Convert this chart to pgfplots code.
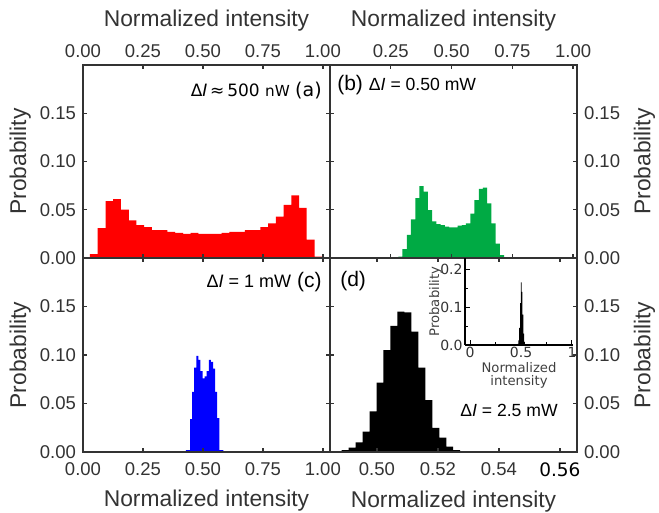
\documentclass[border=0pt]{standalone}
\usepackage{pgfplots}
\pgfplotsset{compat=1.18}
\usepackage{fontspec}
\setmainfont{Liberation Sans}
\newfontfamily\dejavu{DejaVu Sans}
\definecolor{hred}{RGB}{255,0,0}
\definecolor{hgreen}{RGB}{0,170,68}
\definecolor{hblue}{RGB}{0,0,255}
\definecolor{axgray}{RGB}{51,51,51}
\newcommand\tl{\fontsize{9.25}{11}\selectfont}
\newcommand\al{\fontsize{11.4}{13}\selectfont}
\tikzset{ann/.style={inner sep=0pt, text=black}}
\pgfplotsset{
 panel/.style={
  scale only axis, width=123.5pt,
  ymin=0, ymax=0.2, ytick={0,0.05,0.10,0.15},
  axis on top, clip=true,
  axis line style={axgray, line width=0.9pt},
  major tick style={axgray, line width=0.7pt},
  major tick length=2pt, tick align=inside,
  ticklabel style={font=\tl, text=axgray},
  /pgf/number format/assume math mode=true,
  yticklabel style={/pgf/number format/fixed, /pgf/number format/fixed zerofill, /pgf/number format/precision=2},
  xticklabel style={/pgf/number format/fixed, /pgf/number format/fixed zerofill, /pgf/number format/precision=2},
  ylabel={Probability}, ylabel near ticks, xlabel near ticks,
  label style={font=\al, text=axgray},
  anchor=north west,
 },
 fullx/.style={xmin=0, xmax=1.03, xtick={0,0.25,0.5,0.75,1}},
 lefty/.style={ylabel style={inner sep=1pt}},
 lowx/.style={xticklabel style={yshift=-2pt}},
}
\begin{document}
\begin{tikzpicture}
\path[use as bounding box] (0pt,0pt) rectangle (329.5pt,-256.5pt);
% (a)
\begin{axis}[panel, fullx, lefty, height=96.5pt, at={(41.5pt,-32.5pt)},
  xticklabel pos=right, xlabel={Normalized intensity}]
\addplot[fill=hred, draw=none, const plot mark left] coordinates {
(0.029,0.004) (0.061,0.031) (0.094,0.059) (0.126,0.061) (0.158,0.050) (0.191,0.039) (0.223,0.034) (0.255,0.032) (0.287,0.029) (0.320,0.029) (0.352,0.027) (0.384,0.026) (0.417,0.025) (0.449,0.026) (0.481,0.025) (0.514,0.025) (0.546,0.025) (0.578,0.026) (0.610,0.027) (0.643,0.027) (0.675,0.029) (0.707,0.029) (0.740,0.032) (0.772,0.036) (0.804,0.043) (0.837,0.055) (0.869,0.065) (0.901,0.052) (0.933,0.019) (0.966,0.0013) (0.998,0.0013)
} \closedcycle;
\node[ann, anchor=east, font=\dejavu\fontsize{8.5}{10}\selectfont] at (rel axis cs:0.968,0.87) {Δ\textit{I}\,≈\,500 {\fontsize{7.6}{9}\selectfont nW} {\fontsize{9.5}{11}\selectfont(a)}};
\end{axis}
% (b)
\begin{axis}[panel, height=96.5pt, at={(165pt,-32.5pt)}, xmin=0, xmax=1.016, xtick={0.25,0.5,0.75,1},
  xticklabel pos=right, yticklabel pos=right, xlabel={Normalized intensity}]
\addplot[fill=hgreen, draw=none, const plot mark left] coordinates {
(0.281,0.0014) (0.298,0.0093) (0.316,0.024) (0.333,0.040) (0.351,0.062) (0.368,0.0746) (0.385,0.0687) (0.403,0.0497) (0.420,0.038) (0.438,0.035) (0.455,0.034) (0.472,0.0325) (0.490,0.0318) (0.507,0.0318) (0.525,0.0335) (0.542,0.034) (0.559,0.036) (0.577,0.046) (0.594,0.060) (0.612,0.0715) (0.629,0.0729) (0.646,0.0567) (0.664,0.036) (0.681,0.015) (0.699,0.003) (0.716,0.003)
} \closedcycle;
\node[ann, anchor=west, font=\fontsize{10.5}{12}\selectfont] at (rel axis cs:0.028,0.896) {(b)\hspace{3pt}{\fontsize{8.8}{10}\selectfont Δ\textit{I} = 0.50 mW}};
\end{axis}
% (c)
\begin{axis}[panel, fullx, lefty, lowx, height=97pt, at={(41.5pt,-129pt)}, xlabel={Normalized intensity}]
\addplot[fill=hblue, draw=none, const plot mark left] coordinates {
(0.4290,0.002) (0.4377,0.002) (0.4464,0.034) (0.4551,0.062) (0.4638,0.087) (0.4725,0.099) (0.4812,0.095) (0.4899,0.0835) (0.4986,0.076) (0.5073,0.078) (0.5160,0.0835) (0.5247,0.095) (0.5334,0.093) (0.5421,0.086) (0.5508,0.062) (0.5595,0.035) (0.5682,0.002) (0.5769,0.002) (0.5856,0.002)
} \closedcycle;
\node[ann, anchor=east] at (rel axis cs:0.968,0.876) {{\fontsize{9}{10}\selectfont Δ\textit{I} = 1 mW}\hspace{3pt}{\fontsize{10.5}{12}\selectfont (c)}};
\end{axis}
% (d)
\begin{axis}[panel, lowx, height=97pt, at={(165pt,-129pt)}, xmin=0.4846, xmax=0.5656,
  xtick={0.50,0.52,0.54,0.56}, xticklabels={0.50,0.52,0.54,{\dejavu\color{black}0.56}},
  yticklabel pos=right, xlabel={Normalized intensity}]
\addplot[fill=black, draw=none, const plot mark left] coordinates {
(0.4884,0.002) (0.4907,0.0045) (0.4930,0.010) (0.4953,0.021) (0.4976,0.042) (0.4999,0.0715) (0.5021,0.105) (0.5044,0.130) (0.5067,0.1446) (0.5090,0.144) (0.5113,0.124) (0.5136,0.087) (0.5159,0.0536) (0.5182,0.025) (0.5205,0.0147) (0.5228,0.0055) (0.5250,0.002) (0.5273,0.001) (0.5296,0.001)
} \closedcycle;
\node[ann, anchor=west, font=\fontsize{10.5}{12}\selectfont] at (rel axis cs:0.04,0.88) {(d)};
\node[ann, anchor=west, font=\fontsize{8.8}{10}\selectfont] at (rel axis cs:0.526,0.216) {Δ\textit{I} = 2.5 mW};
\end{axis}
% inset
\begin{axis}[at={(232.5pt,-129pt)}, anchor=north west, scale only axis, width=54pt, height=43.5pt,
  xmin=-0.05, xmax=1.01, ymin=0, ymax=0.229,
  axis x line*=bottom, axis y line*=left,
  axis line style={black, line width=0.6pt},
  tick style={black, line width=0.5pt}, major tick length=2.5pt, minor tick length=1.5pt, tick align=inside,
  xtick={0,0.5,1}, minor xtick={0.25,0.75}, ytick={0,0.1,0.2}, minor ytick={0.05,0.15},
  xticklabels={0,0.5,1},
  /pgf/number format/assume math mode=true,
  yticklabel style={/pgf/number format/fixed, /pgf/number format/fixed zerofill, /pgf/number format/precision=1},
  ticklabel style={font=\dejavu\fontsize{7}{8}\selectfont, text=black!80, inner sep=1pt},
  xlabel={Normalized\\intensity}, ylabel={Probability},
  xlabel style={font=\dejavu\fontsize{6.6}{6.6}\selectfont, text=black!75, align=center, inner sep=1pt},
  ylabel style={font=\dejavu\fontsize{6.6}{7}\selectfont, text=black!75, inner sep=0pt, at={(ticklabel cs:0.5,-2pt)}},
  axis on top, clip=true]
\addplot[fill=black, draw=none, const plot mark left] coordinates {
(0.466,0.003) (0.474,0.012) (0.482,0.045) (0.490,0.110) (0.498,0.165) (0.506,0.140) (0.514,0.080) (0.522,0.030) (0.530,0.008) (0.538,0.002) (0.546,0.002)
} \closedcycle;
\end{axis}
\end{tikzpicture}
\end{document}
